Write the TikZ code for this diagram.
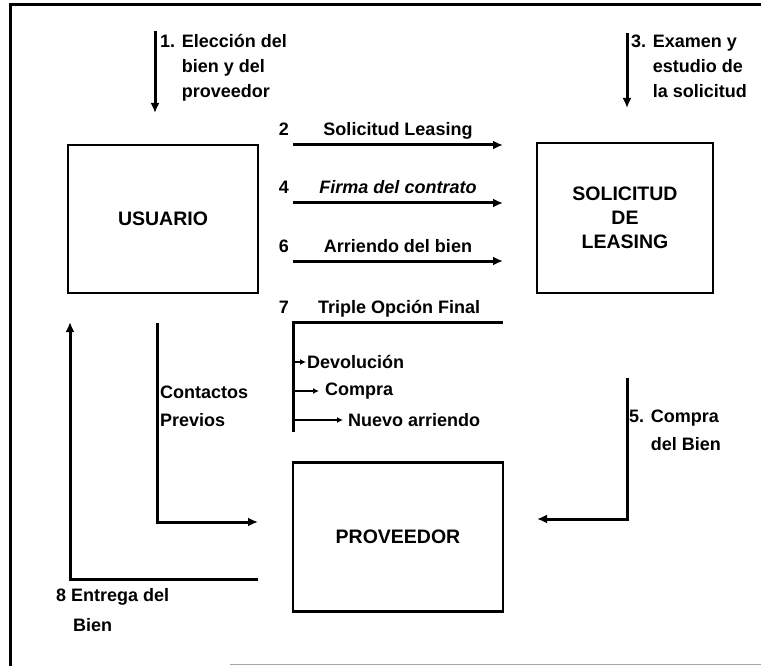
\documentclass[tikz,border=0pt]{standalone}
\usepackage{fontspec}
\setmainfont{Liberation Sans}
\usetikzlibrary{arrows.meta}

\begin{document}
\begin{tikzpicture}[
    x=1pt,
    y=-1pt,
    box/.style={draw, line width=2.5pt, inner sep=0pt, align=center,
                font=\fontsize{19.5}{24}\selectfont\bfseries},
    lbl/.style={inner sep=0pt, align=left,
                font=\fontsize{18}{25}\selectfont\bfseries},
    flow/.style={line width=3pt, -{Latex[length=10pt,width=9pt]}},
    twig/.style={line width=1.6pt, -{Latex[length=6pt,width=6pt]}}]

    \useasboundingbox (0,0) rectangle (761,666);

    % Frame
    \draw[line width=3pt] (761,5) -- (10,5) -- (10,666);
    \draw[line width=1pt, black!35] (230,664) -- (761,664);

    % Boxes
    \node[box, minimum width=190pt, minimum height=148pt] (usuario)   at (163,219) {USUARIO};
    \node[box, minimum width=176pt, minimum height=150pt] (solicitud) at (625,218) {SOLICITUD\\DE\\LEASING};
    \node[box, minimum width=210pt, minimum height=149pt] (proveedor) at (398,537) {PROVEEDOR};

    % 1. Choice of the good
    \coordinate (e1a) at (155,31);
    \coordinate (e1b) at (155,113);
    \draw[flow] (e1a) -- (e1b);
    \node[lbl, anchor=west] (l1) at (160,68)
      {\begin{tabular}{@{}l@{ }l@{}}1. & Elección del\\ & bien y del\\ & proveedor\end{tabular}};

    % 3. Study of the request
    \coordinate (e3a) at (627,33);
    \coordinate (e3b) at (627,108);
    \draw[flow] (e3a) -- (e3b);
    \node[lbl, anchor=west] (l3) at (631,68)
      {\begin{tabular}{@{}l@{ }l@{}}3. & Examen y\\ & estudio de\\ & la solicitud\end{tabular}};

    % Flows user -> leasing
    \foreach \y/\n/\t in {145/2/Solicitud Leasing, 203/4/\textit{Firma del contrato}, 261/6/Arriendo del bien} {
      \coordinate (f\n a) at (293,\y);
      \coordinate (f\n b) at (503,\y);
      \draw[flow] (f\n a) -- node[lbl, midway, anchor=base, yshift=9pt] (t\n) {\t} (f\n b);
      \node[lbl, anchor=base] (n\n) at (284,\y-9) {\n};
    }

    % 7. Final option
    \node[lbl, anchor=base] (n7) at (284,313) {7};
    \node[lbl, anchor=base west] (t7) at (318,313) {Triple Opción Final};
    \coordinate (o7a) at (503,322);
    \coordinate (o7b) at (293,322);
    \coordinate (o7c) at (293,432);
    \draw[line width=3pt] (o7a) -- (o7b) -- (o7c);
    \node[lbl, anchor=west] (dev) at (307,362) {Devolución};
    \node[lbl, anchor=west] (com) at (325,391) {Compra};
    \node[lbl, anchor=west] (nue) at (348,420) {Nuevo arriendo};
    \draw[twig, shorten >=1pt] (o7b |- dev.west) -- (dev.west);
    \draw[twig, line width=2.4pt, shorten >=6pt] (o7b |- com.west) -- (com.west);
    \draw[twig, shorten >=5pt] (o7b |- nue.west) -- (nue.west);

    % Previous contacts
    \coordinate (c1) at (157,323);
    \coordinate (c2) at (157,522);
    \coordinate (c3) at (258,522);
    \draw[flow] (c1) -- (c2) -- (c3);
    \node[lbl, anchor=west, font=\fontsize{18}{28}\selectfont\bfseries] (lc) at (160,406) {Contactos\\Previos};

    % 5. Purchase of the good
    \coordinate (p1) at (627,378);
    \coordinate (p2) at (627,519);
    \coordinate (p3) at (537,519);
    \draw[flow] (p1) -- (p2) -- (p3);
    \node[lbl, anchor=west, font=\fontsize{18}{28}\selectfont\bfseries] (l5) at (629,431)
      {\begin{tabular}{@{}l@{ }l@{}}5. & Compra\\ & del Bien\end{tabular}};

    % 8. Delivery of the good
    \coordinate (d1) at (258,579);
    \coordinate (d2) at (70,579);
    \coordinate (d3) at (70,322);
    \draw[flow] (d1) -- (d2) -- (d3);
    \node[lbl, anchor=west, font=\fontsize{18}{30}\selectfont\bfseries] (l8) at (56,610)
      {8 Entrega del\\\hspace*{17pt}Bien};
  \end{tikzpicture}
\end{document}
